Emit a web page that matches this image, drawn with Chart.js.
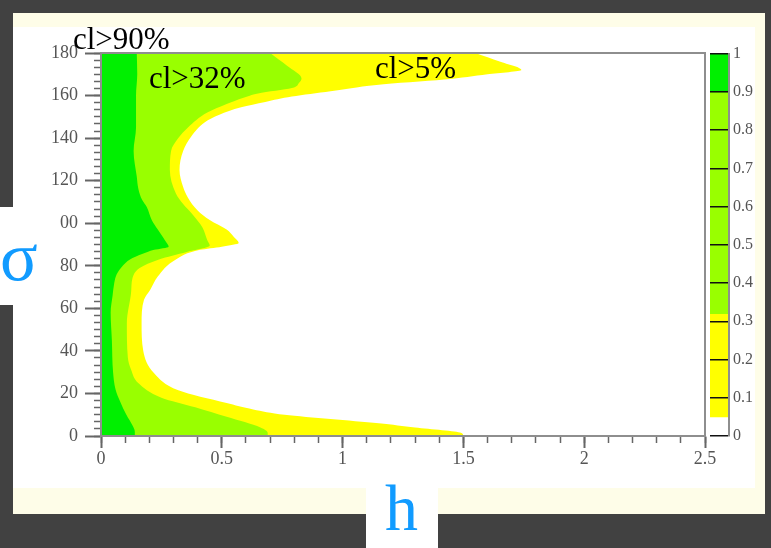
<!DOCTYPE html>
<html>
<head>
<meta charset="utf-8">
<script src="https://cdn.jsdelivr.net/npm/chart.js@4.4.1/dist/chart.umd.min.js"></script>
<style>
  body { margin: 0; width: 771px; height: 548px; overflow: hidden; position: relative; background: #414141; font-family: "Liberation Serif", serif; }
  #frame { position: absolute; left: 13px; top: 13px; width: 752px; height: 501px; background: #fefde8; }
  #inner { position: absolute; left: 13px; top: 27px; width: 742px; height: 461px; background: #ffffff; }
  #main { position: absolute; left: 0; top: 0; }
  #cbar { position: absolute; left: 700px; top: 40px; }
  .note { position: absolute; font-size: 31px; line-height: 1; color: #000; white-space: nowrap; }
  .box { position: absolute; background: #ffffff; }
  .axname { position: absolute; line-height: 1; color: #119bff; white-space: nowrap; }
</style>
</head>
<body>
<div id="frame"></div>
<div id="inner"></div>
<canvas id="main" width="771" height="548"></canvas>
<canvas id="cbar" width="71" height="410"></canvas>

<div class="note" style="left:73px; top:23px;">cl&gt;90%</div>
<div class="note" style="left:149px; top:62px;">cl&gt;32%</div>
<div class="note" style="left:375px; top:52px;">cl&gt;5%</div>

<div class="box" style="left:0; top:207px; width:59px; height:98px;">
  <span class="axname" style="left:0; top:15px; font-size:70px;">σ</span>
</div>
<div class="box" style="left:366px; top:468px; width:72px; height:80px;">
  <span class="axname" style="left:19px; top:7px; font-size:66px;">h</span>
</div>

<script>
// contour edges: sigma (y) -> h (x)
const sigma90 = [0, 2, 5, 10, 16, 22, 30, 45, 58, 66, 72, 76, 80, 83, 85.5, 87.5, 89, 91, 93.5, 97, 101.5, 107.5, 111, 116, 122, 134, 145, 160, 170, 180];
const h90     = [0.14, 0.14, 0.13, 0.105, 0.08, 0.06, 0.05, 0.045, 0.04, 0.048, 0.055, 0.065, 0.09, 0.12, 0.17, 0.22, 0.28, 0.27, 0.256, 0.235, 0.21, 0.19, 0.17, 0.155, 0.148, 0.135, 0.145, 0.145, 0.15, 0.148];

const sigma32 = [0, 1.5, 4, 9, 13.5, 18, 25, 31, 37, 53, 68, 74, 79, 83, 86.5, 89.5, 92, 98, 104, 109, 114, 125, 134, 140, 145, 152, 156, 159, 161, 163.5, 166, 168, 174, 180];
const h32     = [0.69, 0.69, 0.66, 0.52, 0.39, 0.25, 0.153, 0.125, 0.111, 0.107, 0.125, 0.13, 0.16, 0.24, 0.355, 0.45, 0.44, 0.42, 0.38, 0.34, 0.31, 0.285, 0.29, 0.32, 0.36, 0.44, 0.52, 0.59, 0.65, 0.79, 0.82, 0.83, 0.77, 0.70];

const sigma5 = [0, 1.5, 4, 6, 8, 10, 12.5, 15.5, 21.5, 29.5, 40, 53, 64, 69, 75, 83, 87.5, 89, 90.7, 93.5, 97, 101.5, 106, 112, 117, 125, 134, 141, 147.5, 151, 154.5, 157, 159.5, 162, 165, 167.5, 170, 172, 176, 180];
const h5     = [1.50, 1.49, 1.30, 1.15, 0.95, 0.76, 0.63, 0.52, 0.32, 0.22, 0.175, 0.168, 0.178, 0.205, 0.235, 0.31, 0.41, 0.50, 0.57, 0.55, 0.52, 0.45, 0.40, 0.36, 0.34, 0.325, 0.34, 0.375, 0.43, 0.49, 0.58, 0.68, 0.79, 0.95, 1.14, 1.42, 1.60, 1.74, 1.65, 1.55];

// colour bar bands (cl value ranges)
const band90 = [0.9, 1];
const band32 = [0.32, 0.9];
const band5  = [0.05, 0.32];

const hMin = 0, hMax = 2.5;
const sigmaMin = 0, sigmaMax = 180;

function toPoints(s, h) {
  return s.map((v, i) => ({ x: h[i], y: v }));
}

// plain labels like the original: 1 not 1.0
const plainLabel = (v) => String(Math.round(v * 10) / 10);

const axisGray = '#8e8e8e';
const tickGray = '#666666';
const tickFont = { family: 'Liberation Serif', size: 18 };

new Chart(document.getElementById('main'), {
  type: 'line',
  data: {
    datasets: [
      { label: 'cl>90%', data: toPoints(sigma90, h90), backgroundColor: '#00f000', fill: 'origin' },
      { label: 'cl>32%', data: toPoints(sigma32, h32), backgroundColor: '#99ff00', fill: 'origin' },
      { label: 'cl>5%', data: toPoints(sigma5, h5), backgroundColor: '#ffff00', fill: 'origin' },
    ],
  },
  options: {
    indexAxis: 'y',
    responsive: false,
    animation: false,
    layout: { padding: { left: 41, right: 66, top: 53, bottom: 72 } },
    elements: {
      point: { radius: 0 },
      line: { borderWidth: 0, cubicInterpolationMode: 'monotone' },
    },
    plugins: { legend: { display: false }, tooltip: { enabled: false } },
    scales: {
      x: {
        type: 'linear', position: 'bottom', min: hMin, max: hMax,
        ticks: { stepSize: 0.5, autoSkip: false, font: tickFont, color: '#555', padding: 0, maxRotation: 0, callback: plainLabel },
        grid: { drawOnChartArea: false, tickLength: 12, tickWidth: 2, tickColor: tickGray },
        border: { color: axisGray, width: 2, z: 1 },
        afterFit: (s) => { s.height = 40; },
      },
      xMinor: {
        type: 'linear', position: 'bottom', weight: -1, min: hMin, max: hMax,
        ticks: { display: false, stepSize: 0.1, maxTicksLimit: 100 },
        grid: { drawOnChartArea: false, tickLength: 7, tickWidth: 1.5, tickColor: tickGray },
        border: { display: false },
        afterFit: (s) => { s.height = 0; },
      },
      xTop: {
        type: 'linear', position: 'top', min: hMin, max: hMax,
        ticks: { display: false },
        grid: { display: false },
        border: { color: axisGray, width: 2, z: 1 },
        afterFit: (s) => { s.height = 0; },
      },
      y: {
        type: 'linear', position: 'left', min: sigmaMin, max: sigmaMax,
        ticks: { stepSize: 20, autoSkip: false, font: tickFont, color: '#555', padding: 7 },
        grid: { drawOnChartArea: false, tickLength: 16, tickWidth: 2, tickColor: tickGray },
        border: { color: axisGray, width: 2, z: 1 },
        afterFit: (s) => { s.width = 60; },
      },
      yMinor: {
        type: 'linear', position: 'left', weight: -1, min: sigmaMin, max: sigmaMax,
        ticks: { display: false, stepSize: 20 / 6, maxTicksLimit: 100 },
        grid: { drawOnChartArea: false, tickLength: 7, tickWidth: 1.5, tickColor: tickGray },
        border: { display: false },
        afterFit: (s) => { s.width = 0; },
      },
      yRight: {
        type: 'linear', position: 'right', min: sigmaMin, max: sigmaMax,
        ticks: { display: false },
        grid: { display: false },
        border: { color: axisGray, width: 2, z: 1 },
        afterFit: (s) => { s.width = 0; },
      },
    },
  },
});

// colour bar
new Chart(document.getElementById('cbar'), {
  type: 'bar',
  data: {
    labels: [''],
    datasets: [
      { data: [band90], backgroundColor: '#00f000' },
      { data: [band32], backgroundColor: '#99ff00' },
      { data: [band5], backgroundColor: '#ffff00' },
    ],
  },
  options: {
    responsive: false,
    animation: false,
    layout: { padding: { left: 10, right: 0, top: 13, bottom: 14 } },
    plugins: { legend: { display: false }, tooltip: { enabled: false } },
    datasets: { bar: { grouped: false, barPercentage: 1, categoryPercentage: 1 } },
    scales: {
      x: { display: false },
      y: {
        position: 'right', min: 0, max: 1,
        ticks: { stepSize: 0.1, font: { family: 'Liberation Serif', size: 16 }, color: '#555', padding: 4, callback: plainLabel },
        grid: { color: '#111', lineWidth: 1.5, drawTicks: false, z: 1 },
        border: { color: axisGray, width: 2, z: 1 },
        afterFit: (s) => { s.width = 42; },
      },
    },
  },
});
</script>
</body>
</html>
